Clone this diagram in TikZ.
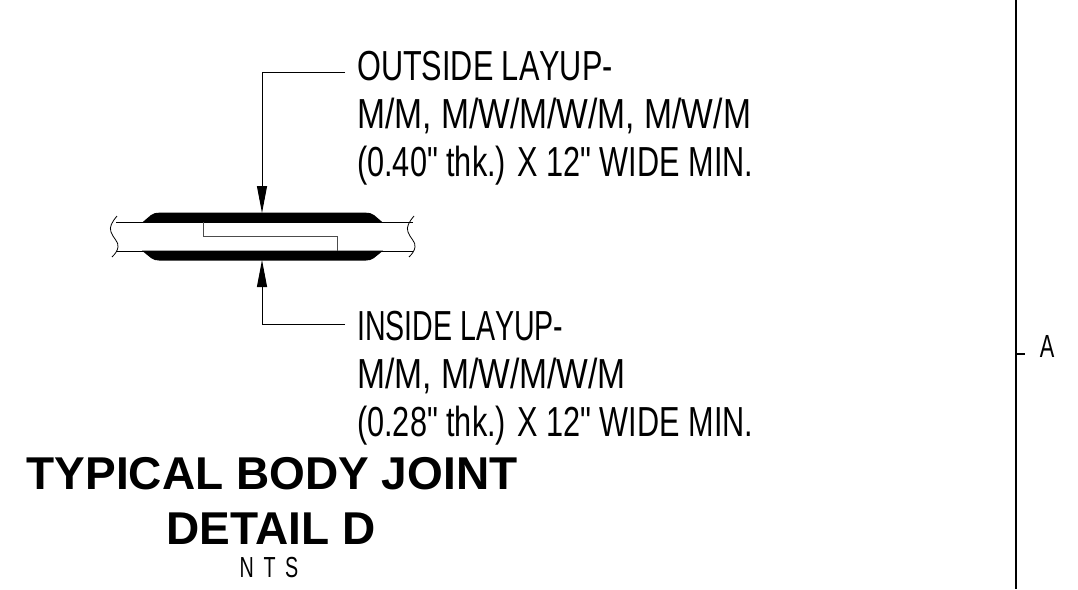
\documentclass[tikz,border=0pt]{standalone}
\usepackage{fontspec}
\setmainfont{Liberation Sans}
\newfontfamily\narrowfont[FakeStretch=0.68,Kerning=Off]{Liberation Sans}
\newfontfamily\middlefont[FakeStretch=0.73,Kerning=Off]{Liberation Sans}
\newfontfamily\widefont[FakeStretch=0.80,Kerning=Off]{Liberation Sans}
\usetikzlibrary{arrows.meta}
\tikzset{
  note/.style={anchor=base west,inner sep=0pt,font=\fontsize{42}{42}\narrowfont},
  notemid/.style={note,font=\fontsize{42}{42}\middlefont},
  notewide/.style={note,font=\fontsize{42}{42}\widefont},
  heading/.style={anchor=base,inner sep=0pt,font=\fontsize{46}{46}\selectfont\bfseries},
  leader/.style={black,line width=1pt,-{Triangle[length=27pt,width=10pt]}},
  plate/.style={black,fill=black},
  shell/.style={black,line width=0.8pt},
}
\begin{document}
\begin{tikzpicture}[x=1pt,y=1pt]
	\useasboundingbox (0,0) rectangle (1078,-589);
	% laminate plates
	\fill [plate] (142,-222.7) -- (151,-215) to[out=35,in=180] (159,-212.7) -- (366,-212.7) to[out=0,in=145] (374,-215) -- (383,-222.7) -- cycle;
	\fill [plate] (142,-250.7) -- (151,-258) to[out=-35,in=180] (159,-260.5) -- (366,-260.5) to[out=0,in=-145] (374,-258) -- (383,-250.7) -- cycle;
	% body shell and joint
	\coordinate (uleft) at (116,-222);
	\coordinate (uright) at (413,-222);
	\coordinate (lleft) at (116,-251);
	\coordinate (lright) at (413,-251);
	\draw [shell] (uleft) -- (uright);
	\draw [shell] (lleft) -- (lright);
	\draw [shell] (117,-216) .. controls (112,-222) and (109,-227) .. (111,-232) .. controls (113,-238) and (119,-242) .. (118,-247) .. controls (117.5,-251) and (115,-254) .. (112,-257);
	\draw [shell] (414,-216) .. controls (409,-222) and (406,-227) .. (408,-232) .. controls (410,-238) and (416,-242) .. (415,-247) .. controls (414.5,-251) and (412,-254) .. (409,-257);
	\draw [black!70,line width=1pt] (203,-222) -- (203,-236) -- (337,-236) -- (337,-251);
	% layup notes
	\node [notemid] (outa) at (357,-80) {OUTSIDE LAYUP-};
	\node [notewide] (outb) at (357,-128) {M/M, M/W/M/W/M, M/W/M};
	\node [notemid] (outc) at (357,-176) {(0.40" thk.) X 12" WIDE MIN.};
	\node [note] (ina) at (357,-340) {INSIDE LAYUP-};
	\node [notewide] (inb) at (357,-388) {M/M, M/W/M/W/M};
	\node [notemid] (inc) at (357,-436) {(0.28" thk.) X 12" WIDE MIN.};
	% leaders
	\coordinate (outtail) at (345,-72);
	\coordinate (outtip) at (262,-213);
	\coordinate (intail) at (345,-324);
	\coordinate (intip) at (262,-260);
	\draw [leader] (outtail) -| (outtip);
	\draw [leader] (intail) -| (intip);
	% title
	\node [heading] (title) at (272,-489) {TYPICAL BODY JOINT};
	\node [heading] (detail) at (271,-544) {DETAIL D};
	\node [anchor=base,inner sep=0pt,font=\fontsize{29}{29}\narrowfont] (scale) at (269,-577) {N\,\,T\,\,S};
	% border line
	\coordinate (bordertop) at (1016,0);
	\coordinate (borderbot) at (1016,-589);
	\coordinate (tickend) at (1025,-354);
	\draw [black,line width=2pt] (bordertop) -- (borderbot);
	\draw [black,line width=1.2pt] (1016,-354) -- (tickend);
	\node [anchor=base,inner sep=0pt,font=\fontsize{32}{32}\narrowfont] (zone) at (1047,-357) {A};
\end{tikzpicture}
\end{document}
